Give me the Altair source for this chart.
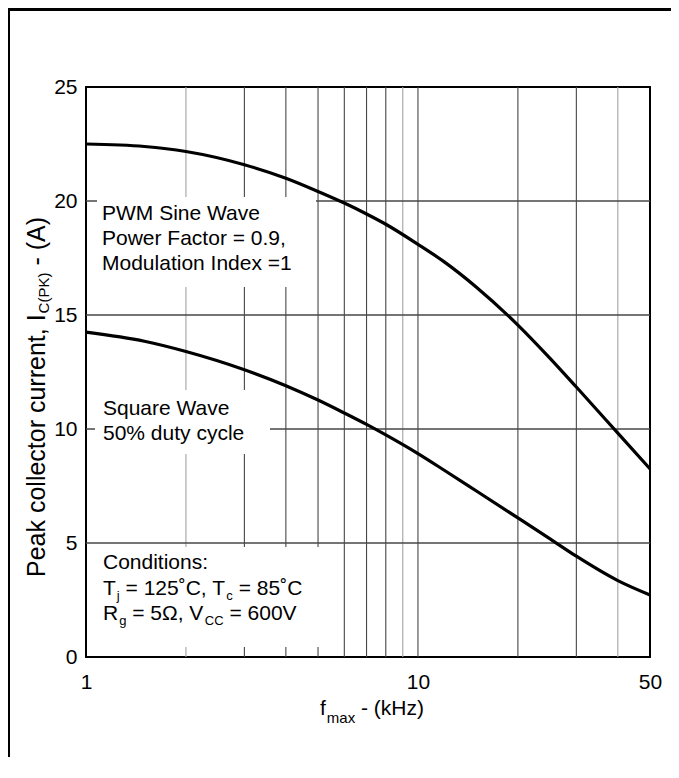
import altair as alt
import pandas as pd

# ---------------- data ----------------
FREQ_PWM = [1, 1.5, 2, 3, 4, 5, 6, 7, 8, 10, 12, 15, 20, 25, 30, 40, 50]
I_PWM = [22.5, 22.39, 22.17, 21.59, 21.0, 20.42, 19.91, 19.43, 18.98, 18.1, 17.33, 16.22, 14.56, 13.1, 11.84, 9.82, 8.25]

FREQ_SQ = [1, 1.5, 2, 3, 4, 5, 6, 7, 8, 10, 12, 15, 20, 25, 30, 40, 50]
I_SQ = [14.25, 13.85, 13.4, 12.6, 11.9, 11.27, 10.7, 10.2, 9.74, 8.92, 8.19, 7.28, 6.1, 5.18, 4.42, 3.35, 2.72]

X_GRID = [2, 3, 4, 5, 6, 7, 8, 9, 10, 20, 30, 40]
X_GRID_LIGHT = [2, 9, 40]
Y_GRID = [5, 10, 15, 20]
X_TICKS = [1, 10, 50]
Y_TICKS = [0, 5, 10, 15, 20, 25]

PWM_LABEL = ["PWM Sine Wave", "Power Factor = 0.9,", "Modulation Index =1"]
SQUARE_LABEL = ["Square Wave", "50% duty cycle"]
COND_LINES = [
    [("Conditions:", False)],
    [("T", False), ("j", True), (" = 125˚C, T", False), ("c", True), (" = 85˚C", False)],
    [("R", False), ("g", True), (" = 5Ω, V", False), ("CC", True), (" = 600V", False)],
]
Y_TITLE = [("Peak collector current, I", False), ("C(PK)", True), (" - (A)", False)]
X_TITLE = [("f", False), ("max", True), (" - (kHz)", False)]

# ---------------- layout ----------------
FONT = "Liberation Sans"
W, H = 564, 570

# Arial / Liberation Sans advance widths (per 1000 em)
ADV = {' ': 278, '%': 889, '(': 333, ')': 333, ',': 278, '-': 333, '.': 278, ':': 278,
       '=': 584, '˚': 333, 'Ω': 768,
       'A': 667, 'C': 722, 'F': 611, 'H': 722, 'I': 278, 'K': 667, 'M': 833, 'P': 667, 'R': 722,
       'S': 667, 'T': 611, 'V': 667, 'W': 944,
       'a': 556, 'c': 500, 'd': 556, 'e': 556, 'f': 278, 'g': 556, 'i': 222, 'j': 222, 'k': 500,
       'l': 222, 'm': 833, 'n': 556, 'o': 556, 'q': 556, 'r': 333, 's': 500, 't': 278, 'u': 556,
       'v': 500, 'w': 722, 'x': 500, 'y': 500, 'z': 500}
for d in "0123456789":
    ADV[d] = 556


def tw(s, fs):
    return sum(ADV.get(c, 556) for c in s) * fs / 1000.0


def segments(parts, x0, y0, main, sub, shift, vertical=False, gap=1.0):
    rows, pos = [], 0.0
    for txt, is_sub in parts:
        fs = sub if is_sub else main
        if is_sub:
            pos += gap
        lead = tw(txt[: len(txt) - len(txt.lstrip(" "))], fs)
        shown = txt.strip(" ")
        p = pos + lead
        if vertical:
            rows.append(dict(px=x0 + (shift if is_sub else 0), py=y0 - p, t=shown, fs=fs, ang=270))
        else:
            rows.append(dict(px=x0 + p, py=y0 + (shift if is_sub else 0), t=shown, fs=fs, ang=0))
        pos += tw(txt, fs)
    return rows


rows = []
for i, line in enumerate(PWM_LABEL):
    rows += segments([(line, False)], 16, 133 + 25 * i, 21, 14, 5)
for i, line in enumerate(SQUARE_LABEL):
    rows += segments([(line, False)], 17, 328 + 25 * i, 21, 14, 5)
for line, yb in zip(COND_LINES, [482, 508, 533]):
    rows += segments(line, 17, yb, 21, 13, 5)
rows += segments(X_TITLE, 234, 628, 21, 15, 8)
rows += segments(Y_TITLE, -41, 490, 25, 15, 4, vertical=True)
text_df = pd.DataFrame(rows)

box_df = pd.DataFrame({
    "x": [11, 9, 2], "x2": [230, 184, 249],
    "y": [110, 303, 460], "y2": [200, 367, 560],
})
band_df = pd.DataFrame({
    "x": [-78, -78], "x2": [585, -76],
    "y": [-79, -79], "y2": [-76, 670],
})

curves = pd.concat([
    pd.DataFrame({"f": FREQ_PWM, "I": I_PWM, "series": "PWM Sine Wave"}),
    pd.DataFrame({"f": FREQ_SQ, "I": I_SQ, "series": "Square Wave"}),
])

xs = alt.Scale(type="log", domain=[1, 50], nice=False)
ys = alt.Scale(domain=[0, 25], nice=False)

xaxis = alt.Axis(values=X_TICKS, format="d", title=None, grid=False, domain=False, ticks=False,
                 labelFont=FONT, labelFontSize=21, labelColor="black",
                 labelPadding=14, labelBaseline="top", labelFlush=False, labelOverlap=False)
yaxis = alt.Axis(values=Y_TICKS, format="d", title=None, grid=False, domain=False, ticks=False,
                 labelFont=FONT, labelFontSize=21, labelColor="black",
                 labelPadding=9, labelBaseline="middle", labelAlign="right",
                 labelFlush=False, labelOverlap=False)

vgrid = alt.Chart(pd.DataFrame({"f": X_GRID})).mark_rule(strokeWidth=1.1).encode(
    x=alt.X("f:Q", scale=xs, axis=xaxis),
    color=alt.condition(alt.FieldOneOfPredicate(field="f", oneOf=X_GRID_LIGHT),
                        alt.value("#a3a3a3"), alt.value("#474747")),
)
hgrid = alt.Chart(pd.DataFrame({"I": Y_GRID})).mark_rule(strokeWidth=1.4, color="#474747").encode(
    y=alt.Y("I:Q", scale=ys, axis=yaxis),
)
boxes = alt.Chart(box_df).mark_rect(fill="white").encode(
    x=alt.X("x:Q", scale=None), x2="x2:Q",
    y=alt.Y("y:Q", scale=None), y2="y2:Q",
)
texts = alt.Chart(text_df).mark_text(font=FONT, color="black", align="left", baseline="alphabetic").encode(
    x=alt.X("px:Q", scale=None),
    y=alt.Y("py:Q", scale=None),
    text="t:N",
    size=alt.Size("fs:Q", scale=None, legend=None),
    angle=alt.Angle("ang:Q", scale=None, legend=None),
)
lines = alt.Chart(curves).mark_line(color="black", strokeWidth=3.2, interpolate="monotone").encode(
    x=alt.X("f:Q", scale=xs, axis=xaxis),
    y=alt.Y("I:Q", scale=ys, axis=yaxis),
    detail="series:N",
)
bands = alt.Chart(band_df).mark_rect(fill="black").encode(
    x=alt.X("x:Q", scale=None), x2="x2:Q",
    y=alt.Y("y:Q", scale=None), y2="y2:Q",
)

chart = alt.layer(vgrid, hgrid, boxes, texts, lines, bands).properties(
    width=W, height=H,
    autosize=alt.AutoSizeParams(type="none"),
    padding={"left": 78, "top": 79, "right": 21, "bottom": 100},
    background="white",
).configure_view(stroke="black", strokeWidth=2)

chart.save("out.html", embed_options={"renderer": "svg", "actions": False})
